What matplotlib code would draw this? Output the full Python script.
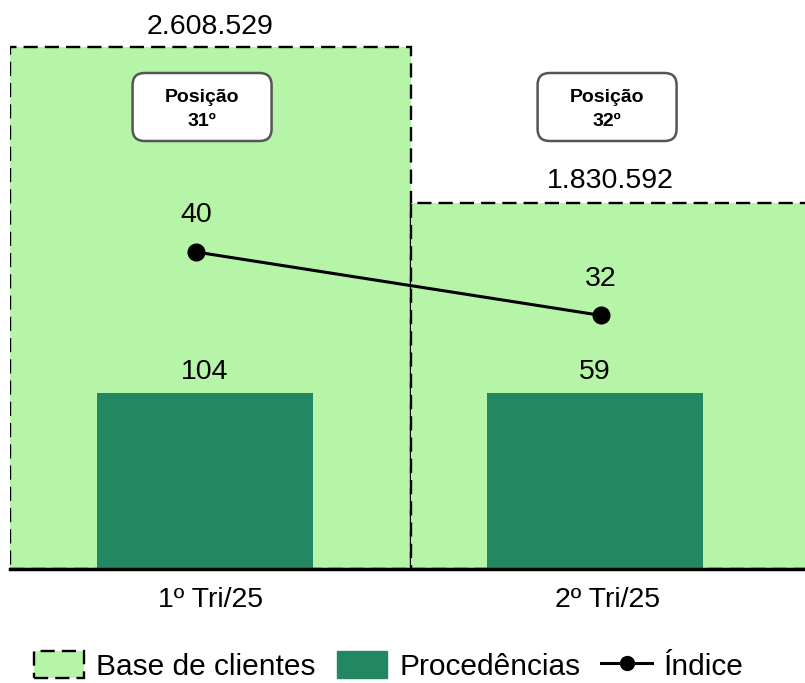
import matplotlib
matplotlib.use("Agg")
import matplotlib.pyplot as plt
import numpy as np
from matplotlib.patches import FancyBboxPatch, Patch
from matplotlib.lines import Line2D

categories = ["1º Tri/25", "2º Tri/25"]
base_clientes = [2608529, 1830592]
procedencias = [104, 59]
indice = [40, 32]
posicoes = ["31º", "32º"]
base_labels = ["2.608.529", "1.830.592"]

LIGHT = "#b6f5a7"
DARK = "#238762"
FONT = "Liberation Sans"
FS = 20.5

plt.rcParams["font.family"] = [FONT, "DejaVu Sans"]

W, H = 805, 683
fig = plt.figure(figsize=(W / 100, H / 100), dpi=100)
ax_l, ax_r, ax_b, ax_t = 10, 805, 569, 10
ax = fig.add_axes([ax_l / W, (H - ax_b) / H, (ax_r - ax_l) / W, (ax_b - ax_t) / H])
ax.patch.set_alpha(0)

px_per_unit = 401.0
xmax = (ax_r - ax_l) / px_per_unit
x = np.arange(len(categories)) + 0.5
DASH = (0, (6, 3))

# base bars
ax.bar(x, base_clientes, width=1.0, color=LIGHT, edgecolor="black",
       linestyle=DASH, linewidth=1.7, zorder=1)
ax.set_xlim(0, xmax)
ax.set_ylim(0, base_clientes[0] * (ax_b - ax_t) / (ax_b - 47))
for xi, lab, v, off in zip(x + np.array([0.0, -0.004]), base_labels, base_clientes, [14.5, 15.5]):
    ax.annotate(lab, (xi, v), xytext=(0, off), textcoords="offset points",
                ha="center", va="center", fontsize=FS)

for s in ["top", "left", "right"]:
    ax.spines[s].set_visible(False)
ax.spines["bottom"].set_linewidth(2.5)
ax.spines["bottom"].set_zorder(10)
ax.set_yticks([])
ax.set_xticks(x + np.array([0.0, -0.01]))
ax.set_xticklabels(categories, fontsize=FS)
ax.tick_params(axis="x", length=0, pad=13)

# procedencias bars: one small axes per category
proc_x = x + np.array([-0.014, -0.041])
proc_w = 216 / px_per_unit
proc_frac = 176 / (ax_b - ax_t)
for xi, v in zip(proc_x, procedencias):
    pax = ax.inset_axes([0, 0, 1, 1])
    pax.set_xlim(0, xmax)
    pax.set_ylim(0, v / proc_frac)
    pax.bar([xi], [v], width=proc_w, color=DARK, zorder=2)
    pax.annotate(str(v), (xi, v), xytext=(0, 15), textcoords="offset points",
                 ha="center", va="center", fontsize=FS)
    pax.axis("off")

# indice line
lax = ax.inset_axes([0, 0, 1, 1])
lax.set_xlim(0, xmax)
lax.set_ylim(0, indice[0] * (ax_b - ax_t) / (ax_b - 252))
lx = x + np.array([-0.036, -0.026])
lax.plot(lx, indice, color="black", linewidth=2.2, marker="o", markersize=12, zorder=5)
for xi, v in zip(lx, indice):
    lax.annotate(str(v), (xi, v), xytext=(0, 26.5), textcoords="offset points",
                 ha="center", va="center", fontsize=FS)
lax.axis("off")

# position boxes
bw, bh = 139 / px_per_unit, 68
box_x = x + np.array([-0.021, -0.011])
yscale = ax.get_ylim()[1] / (ax_b - ax_t)
aspect = yscale * px_per_unit
for xi, pos in zip(box_x, posicoes):
    cy = (ax_b - 107) * yscale
    h = bh * yscale
    p = FancyBboxPatch((xi - bw / 2, cy - h / 2), bw, h,
                       boxstyle="round,pad=0,rounding_size=%f" % (12 / px_per_unit),
                       mutation_aspect=aspect, facecolor="white",
                       edgecolor="#555555", linewidth=1.8, zorder=6)
    ax.add_patch(p)
    ax.text(xi, (ax_b - 97) * yscale, "Posição", ha="center", va="center",
            fontsize=14, fontweight="bold", zorder=7)
    ax.text(xi, (ax_b - 122) * yscale, pos, ha="center", va="center",
            fontsize=14, fontweight="bold", zorder=7)

# legend
handles = [
    Patch(facecolor=LIGHT, edgecolor="black", linestyle=DASH, linewidth=1.7),
    Patch(facecolor=DARK, edgecolor=DARK),
    Line2D([0], [0], color="black", linewidth=2.2, marker="o", markersize=10),
]
labels = ["Base de clientes", "Procedências", "Índice"]
fig.legend(handles, labels, loc="center", bbox_to_anchor=(0.483, 1 - 666 / H), ncol=3,
           frameon=False, fontsize=21.5, handlelength=1.7, handleheight=1.0,
           handletextpad=0.4, columnspacing=0.7, borderpad=0)

fig.savefig("out.png", dpi=100)
